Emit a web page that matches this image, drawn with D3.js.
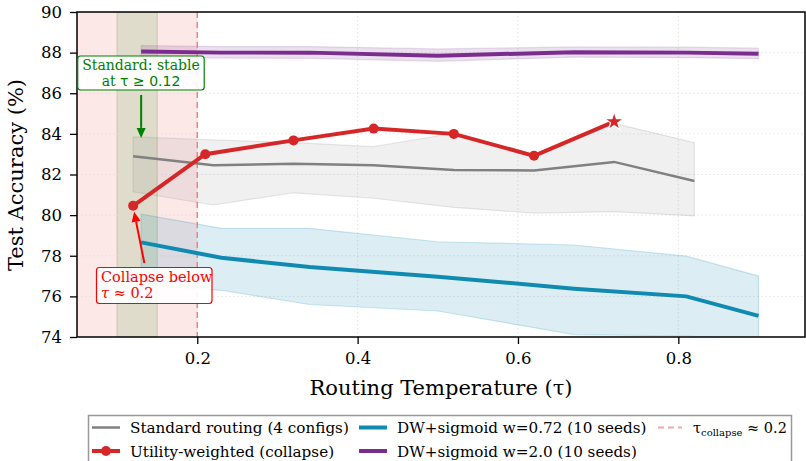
<!DOCTYPE html>
<html>
<head>
<meta charset="UTF-8">
<script src="https://d3js.org/d3.v7.min.js"></script>
<style>
  body { margin: 0; background: #fff; }
  text { font-family: "DejaVu Serif", serif; }
</style>
</head>
<body>
<svg id="chart" width="806" height="461"></svg>
<script>
// tau values and accuracies
var stdTau = [0.12, 0.22, 0.32, 0.42, 0.52, 0.62, 0.72, 0.82];
var stdMean = [82.9, 82.45, 82.53, 82.45, 82.22, 82.2, 82.62, 81.68];
var stdUpper = [83.85, 83.7, 83.57, 83.37, 84.03, 82.9, 84.52, 83.57];
var stdLower = [81.15, 80.5, 81.1, 80.83, 80.38, 80.1, 80.17, 79.96];

var utilTau = [0.12, 0.21, 0.32, 0.42, 0.52, 0.62, 0.72];
var utilAcc = [80.46, 83.0, 83.68, 84.26, 84.0, 82.92, 84.6];

var dwTau = [0.13, 0.23, 0.34, 0.5, 0.67, 0.81, 0.9];
var dw072Mean = [78.66, 77.9, 77.45, 76.97, 76.38, 76.0, 75.04];
var dw072Upper = [80.05, 79.35, 79.35, 78.69, 78.53, 77.98, 77.0];
var dw072Lower = [76.58, 76.3, 75.6, 75.28, 74.12, 74.05, 73.9];
var dw2Mean = [88.05, 88.0, 88.0, 87.85, 88.02, 88.0, 87.95];
var dw2Upper = [88.35, 88.3, 88.3, 88.18, 88.28, 88.27, 88.22];
var dw2Lower = [87.78, 87.73, 87.72, 87.57, 87.78, 87.75, 87.7];

var xTicks = [0.2, 0.4, 0.6, 0.8];
var yTicks = [74, 76, 78, 80, 82, 84, 86, 88, 90];
var collapseTau = 0.2;
var stableBand = [0.1, 0.15];

var margin = {top: 12, right: 1, bottom: 124, left: 77},
    width = 806 - margin.left - margin.right,
    height = 461 - margin.top - margin.bottom;

var svg = d3.select("#chart");
var g = svg.append("g").attr("transform", "translate(" + margin.left + "," + margin.top + ")");

var x = d3.scaleLinear().domain([0.05, 0.958]).range([0, width]);
var y = d3.scaleLinear().domain([74, 90]).range([height, 0]);

g.append("clipPath").attr("id", "clip")
  .append("rect").attr("width", width).attr("height", height);

var plot = g.append("g").attr("clip-path", "url(#clip)");

// shaded regions
plot.append("rect")
  .attr("x", x(0.05)).attr("y", 0)
  .attr("width", x(collapseTau) - x(0.05)).attr("height", height)
  .attr("fill", "#fde8e8");
plot.append("rect")
  .attr("x", x(stableBand[0])).attr("y", 0)
  .attr("width", x(stableBand[1]) - x(stableBand[0])).attr("height", height)
  .attr("fill", "#dfdccb").attr("stroke", "#c9c7aa").attr("stroke-width", 1);

// grid
plot.selectAll(".gx").data(xTicks).enter().append("line")
  .attr("x1", d => x(d)).attr("x2", d => x(d)).attr("y1", 0).attr("y2", height)
  .attr("stroke", "#dddddd").attr("stroke-width", 0.8).attr("stroke-dasharray", "1.5,2.5");
plot.selectAll(".gy").data(yTicks).enter().append("line")
  .attr("x1", 0).attr("x2", width).attr("y1", d => y(d)).attr("y2", d => y(d))
  .attr("stroke", "#dddddd").attr("stroke-width", 0.8).attr("stroke-dasharray", "1.5,2.5");

function band(tau, lo, hi) {
  return d3.area().x((d, i) => x(tau[i])).y0((d, i) => y(lo[i])).y1((d, i) => y(hi[i]))(tau);
}
function line(tau, vals) {
  return d3.line().x((d, i) => x(tau[i])).y((d, i) => y(vals[i]))(tau);
}

plot.append("path").attr("d", band(stdTau, stdLower, stdUpper))
  .attr("fill", "#808080").attr("fill-opacity", 0.12)
  .attr("stroke", "#808080").attr("stroke-opacity", 0.18).attr("stroke-width", 1.2);
plot.append("path").attr("d", band(dwTau, dw072Lower, dw072Upper))
  .attr("fill", "#118ab2").attr("fill-opacity", 0.15)
  .attr("stroke", "#118ab2").attr("stroke-opacity", 0.2).attr("stroke-width", 1.2);
plot.append("path").attr("d", band(dwTau, dw2Lower, dw2Upper))
  .attr("fill", "#7b2d8e").attr("fill-opacity", 0.15)
  .attr("stroke", "#7b2d8e").attr("stroke-opacity", 0.15).attr("stroke-width", 1.2);

// collapse threshold
plot.append("line")
  .attr("x1", x(collapseTau)).attr("x2", x(collapseTau)).attr("y1", 0).attr("y2", height)
  .attr("stroke", "#f47f7f").attr("stroke-width", 1.5).attr("stroke-dasharray", "6,4");

plot.append("path").attr("d", line(stdTau, stdMean))
  .attr("fill", "none").attr("stroke", "#808080").attr("stroke-width", 2.5);
plot.append("path").attr("d", line(dwTau, dw072Mean))
  .attr("fill", "none").attr("stroke", "#118ab2").attr("stroke-width", 4);
plot.append("path").attr("d", line(dwTau, dw2Mean))
  .attr("fill", "none").attr("stroke", "#7b2d8e").attr("stroke-width", 4);
plot.append("path").attr("d", line(utilTau, utilAcc))
  .attr("fill", "none").attr("stroke", "#d62728").attr("stroke-width", 4);

plot.selectAll(".um").data(utilTau.slice(0, -1)).enter().append("circle")
  .attr("cx", d => x(d)).attr("cy", (d, i) => y(utilAcc[i])).attr("r", 5)
  .attr("fill", "#d62728");
var last = utilTau.length - 1;
plot.append("path")
  .attr("d", d3.symbol().type(d3.symbolStar).size(110)())
  .attr("transform", "translate(" + x(utilTau[last]) + "," + y(utilAcc[last]) + ")")
  .attr("fill", "#d62728").attr("stroke", "#fff").attr("stroke-width", 1.2);

// axes
g.append("rect").attr("width", width).attr("height", height)
  .attr("fill", "none").attr("stroke", "#000").attr("stroke-width", 1.5);

var xAxis = g.append("g").attr("transform", "translate(0," + height + ")")
  .call(d3.axisBottom(x).tickValues(xTicks).tickFormat(d3.format(".1f")).tickSize(7).tickPadding(8));
var yAxis = g.append("g")
  .call(d3.axisLeft(y).tickValues(yTicks).tickSize(7).tickPadding(8));
[xAxis, yAxis].forEach(function(a) {
  a.select(".domain").remove();
  a.selectAll("line").attr("stroke", "#000").attr("stroke-width", 1.3);
  a.selectAll("text").attr("font-family", "DejaVu Serif").attr("font-size", 16.5).attr("fill", "#000");
});

svg.append("text").attr("x", 441).attr("y", 395).attr("text-anchor", "middle")
  .attr("font-size", 21).text("Routing Temperature (τ)");
svg.append("text").attr("transform", "translate(23,175) rotate(-90)").attr("text-anchor", "middle")
  .attr("font-size", 21).text("Test Accuracy (%)");

// annotations
function arrow(x1, y1, x2, y2, color) {
  var ang = Math.atan2(y2 - y1, x2 - x1), L = 10, W = 4.5;
  var bx = x2 - L * Math.cos(ang), by = y2 - L * Math.sin(ang);
  g.append("line").attr("x1", x1).attr("y1", y1).attr("x2", bx).attr("y2", by)
    .attr("stroke", color).attr("stroke-width", 2);
  g.append("path").attr("d", "M" + x2 + "," + y2 +
      "L" + (bx + W * Math.sin(ang)) + "," + (by - W * Math.cos(ang)) +
      "L" + (bx - W * Math.sin(ang)) + "," + (by + W * Math.cos(ang)) + "Z")
    .attr("fill", color);
}

// green note
arrow(x(0.13), 83, x(0.13), y(83.85) + 1, "#008000");
g.append("rect").attr("x", 0.7).attr("y", 44).attr("width", 126.5).attr("height", 34).attr("rx", 3)
  .attr("fill", "#fff").attr("fill-opacity", 0.9).attr("stroke", "#008000").attr("stroke-width", 1.2);
var gt = g.append("text").attr("fill", "#008000").attr("font-size", 14).attr("text-anchor", "middle");
gt.append("tspan").attr("x", 64).attr("y", 58).text("Standard: stable");
var gt2 = gt.append("tspan").attr("x", 64).attr("y", 74);
gt2.append("tspan").text("at ");
gt2.append("tspan").attr("font-family", "DejaVu Sans").text("τ ≥ 0.12");

// red note
arrow(x(0.134), 251, x(0.12) + 1, y(80.46) + 6, "#ff0000");
g.append("rect").attr("x", 19.5).attr("y", 255.5).attr("width", 115.5).attr("height", 36).attr("rx", 3)
  .attr("fill", "#fff").attr("fill-opacity", 0.9).attr("stroke", "#ff0000").attr("stroke-width", 1.2);
var rt = g.append("text").attr("fill", "#ff0000").attr("font-size", 14.5).attr("font-family", "DejaVu Sans");
rt.append("tspan").attr("x", 24).attr("y", 270).text("Collapse below");
var rt2 = rt.append("tspan").attr("x", 24).attr("y", 286);
rt2.append("tspan").attr("font-style", "italic").text("τ");
rt2.append("tspan").text(" ≈ 0.2");

// legend
var leg = svg.append("g");
leg.append("rect").attr("x", 88.5).attr("y", 415.5).attr("width", 703).attr("height", 52)
  .attr("fill", "#fff").attr("stroke", "#999").attr("stroke-width", 1.5);

var legItems = [
  {label: "Standard routing (4 configs)", color: "#808080", w: 2.5, col: 0, row: 0},
  {label: "Utility-weighted (collapse)", color: "#d62728", w: 4, col: 0, row: 1, marker: true},
  {label: "DW+sigmoid w=0.72 (10 seeds)", color: "#118ab2", w: 4, col: 1, row: 0},
  {label: "DW+sigmoid w=2.0 (10 seeds)", color: "#7b2d8e", w: 4, col: 1, row: 1}
];
var colX = [92, 359, 658];
var rowY = [427.5, 451];

legItems.forEach(function(d) {
  var cx = colX[d.col], cy = rowY[d.row];
  leg.append("line").attr("x1", cx).attr("x2", cx + 28).attr("y1", cy).attr("y2", cy)
    .attr("stroke", d.color).attr("stroke-width", d.w);
  if (d.marker) leg.append("circle").attr("cx", cx + 14).attr("cy", cy).attr("r", 5).attr("fill", d.color);
  leg.append("text").attr("x", cx + 38).attr("y", cy + 5.5).attr("font-size", 15.2).text(d.label);
});
leg.append("line").attr("x1", colX[2]).attr("x2", colX[2] + 24).attr("y1", rowY[0]).attr("y2", rowY[0])
  .attr("stroke", "#f47f7f").attr("stroke-opacity", 0.7).attr("stroke-width", 1.8).attr("stroke-dasharray", "6,4");
var lt = leg.append("text").attr("x", 693).attr("y", rowY[0] + 5.5).attr("font-size", 14.5).attr("font-family", "DejaVu Sans");
lt.append("tspan").text("τ");
lt.append("tspan").attr("font-size", 10).attr("dy", 3).text("collapse");
lt.append("tspan").attr("dy", -3).text(" ≈ 0.2");
</script>
</body>
</html>
